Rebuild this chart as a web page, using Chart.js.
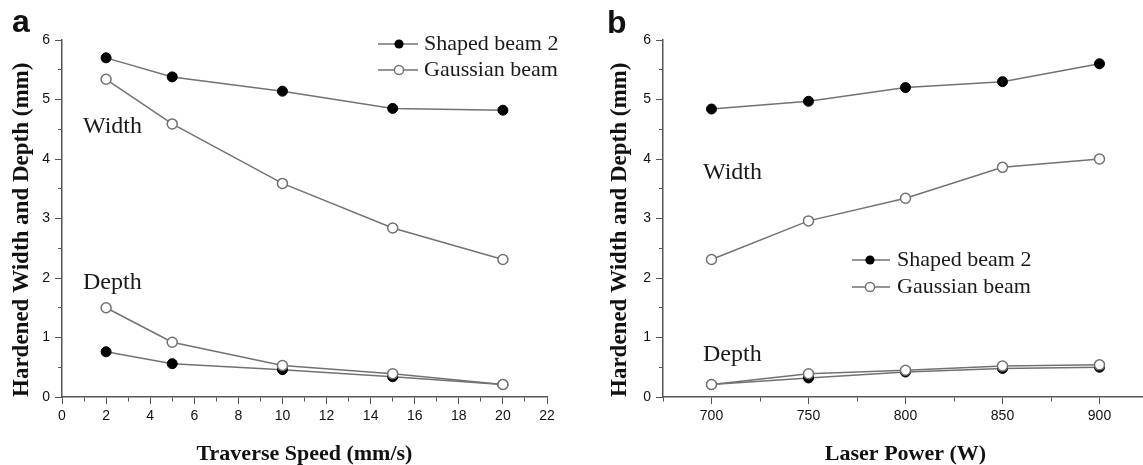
<!DOCTYPE html>
<html>
<head>
<meta charset="utf-8">
<script src="https://cdn.jsdelivr.net/npm/chart.js@4.4.1/dist/chart.umd.min.js"></script>
<style>
  html, body { margin: 0; padding: 0; background: #fff; overflow: hidden; width: 1143px; height: 465px; }
  #wrap { position: relative; width: 1143px; height: 465px; overflow: hidden; }
  canvas { position: absolute; top: 0; }
  #ca { left: 0; }
  #cb { left: 570px; }
</style>
</head>
<body>
<div id="wrap">
  <canvas id="ca" width="570" height="465"></canvas>
  <canvas id="cb" width="600" height="465"></canvas>
</div>
<script>
// ---------- data ----------
const seriesNames = ['Shaped beam 2', 'Gaussian beam'];

// Panel a: Traverse speed (mm/s)
const speeds = [2, 5, 10, 15, 20];
const shapedWidthA = [5.70, 5.38, 5.14, 4.85, 4.82];
const gaussWidthA  = [5.34, 4.59, 3.59, 2.84, 2.31];
const shapedDepthA = [0.76, 0.56, 0.46, 0.34, 0.21];
const gaussDepthA  = [1.50, 0.92, 0.53, 0.39, 0.21];

// Panel b: Laser power (W)
const powers = [700, 750, 800, 850, 900];
const shapedWidthB = [4.84, 4.97, 5.20, 5.30, 5.60];
const gaussWidthB  = [2.31, 2.96, 3.34, 3.86, 4.00];
const shapedDepthB = [0.21, 0.32, 0.42, 0.48, 0.50];
const gaussDepthB  = [0.21, 0.39, 0.45, 0.52, 0.54];

// Ticks
const yTicks   = [0, 0.5, 1, 1.5, 2, 2.5, 3, 3.5, 4, 4.5, 5, 5.5, 6];
const yLabels  = [0, 1, 2, 3, 4, 5, 6];
const xTicksA  = [0,1,2,3,4,5,6,7,8,9,10,11,12,13,14,15,16,17,18,19,20,21,22];
const xLabelsA = [0, 2, 4, 6, 8, 10, 12, 14, 16, 18, 20, 22];
const xTicksB  = [675, 700, 725, 750, 775, 800, 825, 850, 875, 900, 925];
const xLabelsB = [700, 750, 800, 850, 900];

// ---------- styling ----------
Chart.defaults.font.family = "'Liberation Sans', Arial, sans-serif";
const LINE = '#727272';
const AXIS = '#555';
const TXT = '#1a1a1a';
const R = 5;

function pts(xs, ys) { return xs.map((x, i) => ({x: x, y: ys[i]})); }

function shapedDS(data) {
  return { data, borderColor: LINE, borderWidth: 1.5, pointRadius: R,
    pointBackgroundColor: '#000', pointBorderColor: '#000', pointBorderWidth: 1, tension: 0, order: 2 };
}
function gaussDS(data) {
  return { data, borderColor: LINE, borderWidth: 1.5, pointRadius: R,
    pointBackgroundColor: '#fff', pointBorderColor: LINE, pointBorderWidth: 1.5, tension: 0, order: 1 };
}

const annotPlugin = {
  id: 'annot',
  afterDraw(chart, args, opts) {
    const ctx = chart.ctx;
    ctx.save();
    // panel letter
    ctx.fillStyle = '#111';
    ctx.font = "bold 32px 'Liberation Sans', Arial, sans-serif";
    ctx.textAlign = 'left';
    ctx.textBaseline = 'alphabetic';
    ctx.fillText(opts.letter.text, opts.letter.x, opts.letter.y);
    // Width/Depth labels
    ctx.font = "24px 'Liberation Serif', 'Times New Roman', serif";
    ctx.textBaseline = 'middle';
    ctx.fillStyle = TXT;
    opts.texts.forEach(t => ctx.fillText(t.text, t.x, t.y));
    // legend
    const L = opts.legend;
    seriesNames.forEach((name, i) => {
      const y = L.ys[i];
      ctx.strokeStyle = LINE; ctx.lineWidth = 1.5;
      ctx.beginPath(); ctx.moveTo(L.x1, y); ctx.lineTo(L.x2, y); ctx.stroke();
      ctx.beginPath(); ctx.arc(L.xm, y, 4.6, 0, Math.PI * 2);
      if (i === 0) { ctx.fillStyle = '#000'; ctx.fill(); }
      else { ctx.fillStyle = '#fff'; ctx.fill(); ctx.strokeStyle = LINE; ctx.lineWidth = 1.5; ctx.stroke(); }
      ctx.fillStyle = TXT;
      ctx.font = "22px 'Liberation Serif', 'Times New Roman', serif";
      ctx.textBaseline = 'middle';
      ctx.fillText(name, L.xt, y);
    });
    ctx.restore();
  }
};

function makeChart(id, cfg) {
  const isMajorX = (v) => cfg.xLabels.includes(v);
  const isMajorY = (v) => yLabels.includes(v);
  return new Chart(document.getElementById(id), {
    type: 'line',
    data: { datasets: cfg.datasets },
    options: {
      responsive: false, animation: false, devicePixelRatio: 1,
      layout: { padding: { left: 0, top: 40, right: cfg.padRight, bottom: 0 } },
      plugins: { legend: { display: false }, tooltip: { enabled: false }, annot: cfg.annot },
      scales: {
        x: {
          type: 'linear', position: 'bottom', min: cfg.xMin, max: cfg.xMax,
          afterBuildTicks: (s) => { s.ticks = cfg.xTicks.map(v => ({value: v})); },
          afterFit: (s) => { s.height = 68; },
          ticks: { autoSkip: false, maxRotation: 0, padding: 4, color: '#111',
            font: { size: 14 }, callback: (v) => isMajorX(v) ? String(v) : '' },
          grid: { drawOnChartArea: false, tickLength: 7, tickWidth: 1, tickColor: AXIS,
            tickBorderDash: (c) => (c.tick && !isMajorX(c.tick.value)) ? [4, 100] : [] },
          border: { display: true, color: AXIS, width: 1.5 },
          title: { display: true, text: cfg.xTitle, color: '#111', padding: { top: 0, bottom: 0 },
            font: { family: "'Liberation Serif', 'Times New Roman', serif", weight: 'bold', size: 22, lineHeight: 1 } }
        },
        y: {
          type: 'linear', position: 'left', min: 0, max: 6,
          afterBuildTicks: (s) => { s.ticks = yTicks.map(v => ({value: v})); },
          afterFit: (s) => { s.width = cfg.yWidth; },
          ticks: { autoSkip: false, padding: 5, color: '#111', font: { size: 14 },
            callback: (v) => isMajorY(v) ? String(v) : '' },
          grid: { drawOnChartArea: false, tickLength: 7, tickWidth: 1, tickColor: AXIS,
            tickBorderDash: (c) => (c.tick && !isMajorY(c.tick.value)) ? [0, 3, 10, 0] : [] },
          border: { display: true, color: AXIS, width: 1.5 },
          title: { display: true, text: 'Hardened Width and Depth (mm)', color: '#111', align: 'start',
            padding: { top: cfg.yTitlePad, bottom: 0 },
            font: { family: "'Liberation Serif', 'Times New Roman', serif", weight: 'bold', size: 23, lineHeight: 1 } }
        }
      }
    },
    plugins: [annotPlugin]
  });
}

makeChart('ca', {
  datasets: [
    gaussDS(pts(speeds, gaussWidthA)), gaussDS(pts(speeds, gaussDepthA)),
    shapedDS(pts(speeds, shapedWidthA)), shapedDS(pts(speeds, shapedDepthA))
  ],
  xMin: 0, xMax: 22, xTicks: xTicksA, xLabels: xLabelsA,
  xTitle: 'Traverse Speed (mm/s)', padRight: 23, yWidth: 62, yTitlePad: 10.5,
  annot: {
    letter: { text: 'a', x: 12, y: 32 },
    texts: [ { text: 'Width', x: 83, y: 127 }, { text: 'Depth', x: 83, y: 283 } ],
    legend: { x1: 378, x2: 418, xm: 399, xt: 424, ys: [44, 70] }
  }
});

makeChart('cb', {
  datasets: [
    gaussDS(pts(powers, gaussWidthB)), gaussDS(pts(powers, gaussDepthB)),
    shapedDS(pts(powers, shapedWidthB)), shapedDS(pts(powers, shapedDepthB))
  ],
  xMin: 675, xMax: 925, xTicks: xTicksB, xLabels: xLabelsB,
  xTitle: 'Laser Power (W)', padRight: 22, yWidth: 93, yTitlePad: 38.5,
  annot: {
    letter: { text: 'b', x: 37, y: 33 },
    texts: [ { text: 'Width', x: 133, y: 173 }, { text: 'Depth', x: 133, y: 355 } ],
    legend: { x1: 282, x2: 320, xm: 300, xt: 327, ys: [260, 287] }
  }
});
</script>
</body>
</html>
